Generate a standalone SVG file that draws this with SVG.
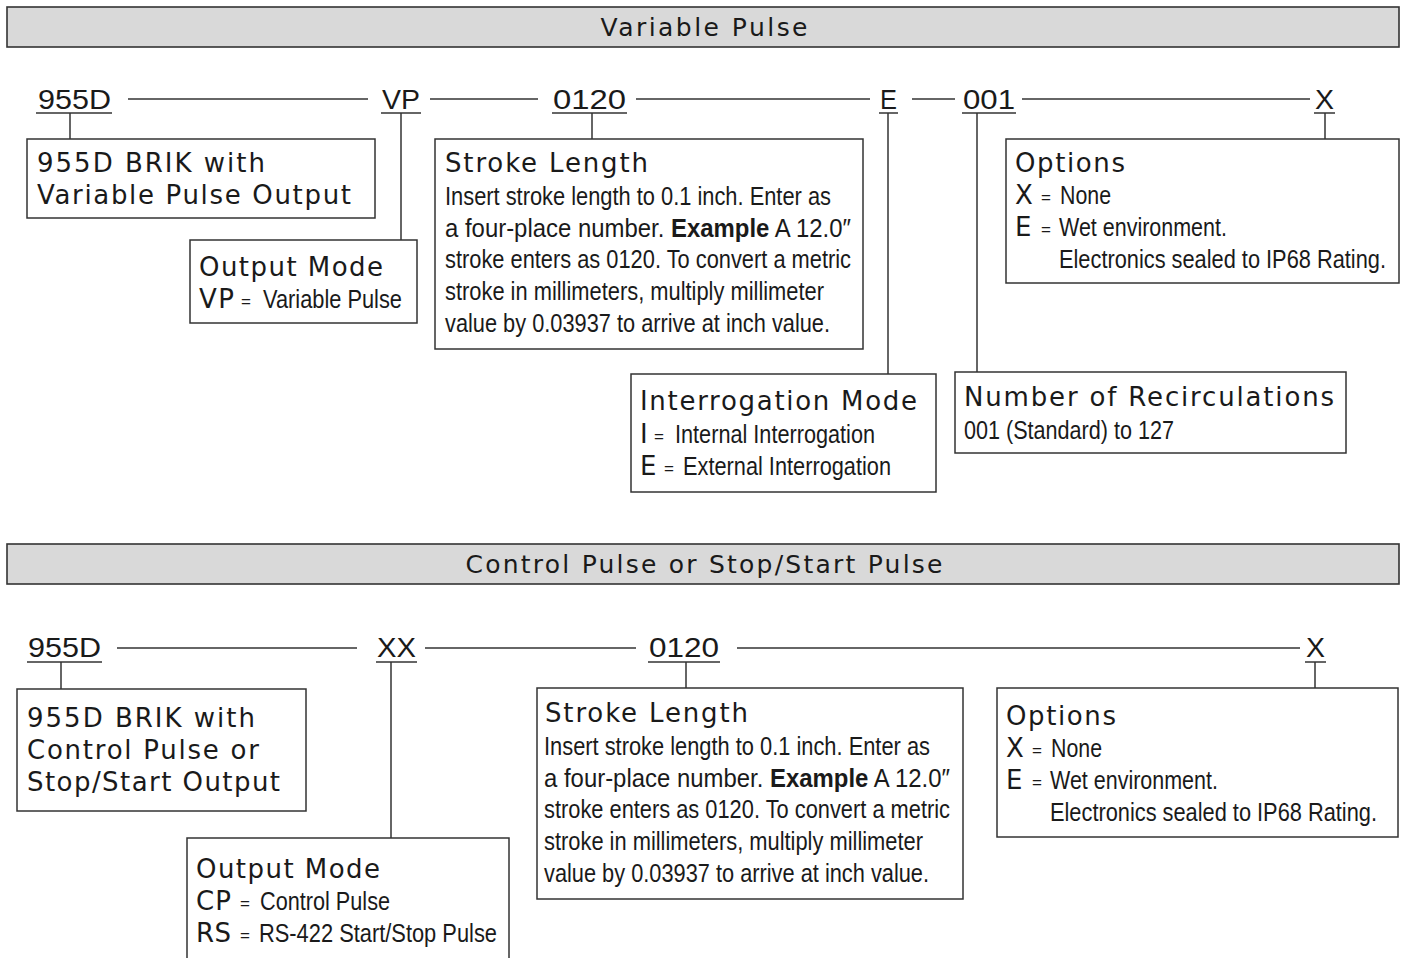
<svg xmlns="http://www.w3.org/2000/svg" width="1403" height="958" viewBox="0 0 1403 958">
<style>
.bg{fill:#fff}
.hbar{fill:#d9d9d9;stroke:#333;stroke-width:1.6}
.box{fill:#fff;stroke:#333;stroke-width:1.5}
.ln{stroke:#333;stroke-width:1.5;fill:none}
.hdr{font-family:"DejaVu Sans","Open Sans",sans-serif;font-size:25px;fill:#1a1a1a;text-anchor:middle}
.code{font-family:"Liberation Sans",Arial,sans-serif;font-size:27px;fill:#1a1a1a}
.ttl{font-family:"DejaVu Sans",Verdana,sans-serif;font-size:26px;fill:#1a1a1a}
.body{font-family:"Liberation Sans",Arial,sans-serif;font-size:25px;fill:#1a1a1a}
.eq{font-family:"Liberation Sans",Arial,sans-serif;font-size:17px;fill:#1a1a1a}
.b{font-weight:bold}
</style>
<rect class="bg" x="0" y="0" width="1403" height="958"/>

<g id="header-variable">
<rect class="hbar" x="7" y="7" width="1392" height="40"/>
<text class="hdr" x="704" y="36" textLength="207" lengthAdjust="spacing">Variable Pulse</text>
</g>

<g id="codes-top">
<text class="code" x="38" y="109" textLength="73" lengthAdjust="spacingAndGlyphs">955D</text>
<text class="code" x="382" y="109" textLength="38" lengthAdjust="spacingAndGlyphs">VP</text>
<text class="code" x="553" y="109" textLength="73" lengthAdjust="spacingAndGlyphs">0120</text>
<text class="code" x="880" y="109" textLength="17" lengthAdjust="spacingAndGlyphs">E</text>
<text class="code" x="963" y="109" textLength="52" lengthAdjust="spacingAndGlyphs">001</text>
<text class="code" x="1315" y="109" textLength="19" lengthAdjust="spacingAndGlyphs">X</text>
</g>

<g id="connectors">
<line class="ln" x1="128" y1="99" x2="368" y2="99"/>
<line class="ln" x1="430" y1="99" x2="538" y2="99"/>
<line class="ln" x1="636" y1="99" x2="870" y2="99"/>
<line class="ln" x1="912" y1="99" x2="955" y2="99"/>
<line class="ln" x1="1022" y1="99" x2="1310" y2="99"/>
<line class="ln" x1="36" y1="113" x2="112" y2="113"/>
<line class="ln" x1="381" y1="113" x2="421" y2="113"/>
<line class="ln" x1="552" y1="113" x2="627" y2="113"/>
<line class="ln" x1="879" y1="113" x2="898" y2="113"/>
<line class="ln" x1="962" y1="113" x2="1016" y2="113"/>
<line class="ln" x1="1314" y1="113" x2="1335" y2="113"/>
<line class="ln" x1="70" y1="113" x2="70" y2="139"/>
<line class="ln" x1="401" y1="113" x2="401" y2="240"/>
<line class="ln" x1="592" y1="113" x2="592" y2="139"/>
<line class="ln" x1="888" y1="113" x2="888" y2="374"/>
<line class="ln" x1="977" y1="113" x2="977" y2="372"/>
<line class="ln" x1="1325" y1="113" x2="1325" y2="139"/>
<line class="ln" x1="117" y1="648" x2="357" y2="648"/>
<line class="ln" x1="425" y1="648" x2="636" y2="648"/>
<line class="ln" x1="737" y1="648" x2="1300" y2="648"/>
<line class="ln" x1="27" y1="662" x2="102" y2="662"/>
<line class="ln" x1="376" y1="662" x2="417" y2="662"/>
<line class="ln" x1="648" y1="662" x2="720" y2="662"/>
<line class="ln" x1="1305" y1="662" x2="1326" y2="662"/>
<line class="ln" x1="61" y1="662" x2="61" y2="689"/>
<line class="ln" x1="391" y1="662" x2="391" y2="838"/>
<line class="ln" x1="686" y1="662" x2="686" y2="688"/>
<line class="ln" x1="1315" y1="662" x2="1315" y2="688"/>
</g>

<g id="brik-vp">
<rect class="box" x="27" y="139" width="348" height="79"/>
<text class="ttl" x="37" y="172" textLength="228" lengthAdjust="spacing">955D BRIK with</text>
<text class="ttl" x="37" y="204" textLength="314" lengthAdjust="spacing">Variable Pulse Output</text>
</g>

<g id="output-mode-vp">
<rect class="box" x="190" y="240" width="227" height="83"/>
<text class="ttl" x="199" y="276" textLength="184" lengthAdjust="spacing">Output Mode</text>
<text class="ttl" x="199" y="308" textLength="35" lengthAdjust="spacing">VP</text>
<text class="eq" x="241" y="307">=</text>
<text class="body" transform="translate(263,308) scale(0.86,1)" textLength="161.6" lengthAdjust="spacingAndGlyphs">Variable Pulse</text>
</g>

<g id="stroke-length-vp">
<rect class="box" x="435" y="139" width="428" height="210"/>
<text class="ttl" x="445" y="172" textLength="203" lengthAdjust="spacing">Stroke Length</text>
<text class="body" transform="translate(445,205) scale(0.86,1)" textLength="448.8" lengthAdjust="spacingAndGlyphs">Insert stroke length to 0.1 inch. Enter as</text>
<text class="body" transform="translate(445,237) scale(0.86,1)" textLength="472.1" lengthAdjust="spacingAndGlyphs">a four-place number. <tspan class="b">Example</tspan> A 12.0″</text>
<text class="body" transform="translate(445,268) scale(0.86,1)" textLength="472.1" lengthAdjust="spacingAndGlyphs">stroke enters as 0120. To convert a metric</text>
<text class="body" transform="translate(445,300) scale(0.86,1)" textLength="440.7" lengthAdjust="spacingAndGlyphs">stroke in millimeters, multiply millimeter</text>
<text class="body" transform="translate(445,332) scale(0.86,1)" textLength="447.7" lengthAdjust="spacingAndGlyphs">value by 0.03937 to arrive at inch value.</text>
</g>

<g id="interrogation-mode">
<rect class="box" x="631" y="374" width="305" height="118"/>
<text class="ttl" x="640" y="410" textLength="277" lengthAdjust="spacing">Interrogation Mode</text>
<text class="ttl" x="640" y="443">I</text>
<text class="eq" x="654" y="442">=</text>
<text class="body" transform="translate(675,443) scale(0.86,1)" textLength="232.6" lengthAdjust="spacingAndGlyphs">Internal Interrogation</text>
<text class="ttl" x="640" y="475">E</text>
<text class="eq" x="664" y="474">=</text>
<text class="body" transform="translate(683,475) scale(0.86,1)" textLength="241.9" lengthAdjust="spacingAndGlyphs">External Interrogation</text>
</g>

<g id="recirculations">
<rect class="box" x="955" y="372" width="391" height="81"/>
<text class="ttl" x="964" y="406" textLength="370" lengthAdjust="spacing">Number of Recirculations</text>
<text class="body" transform="translate(964,439) scale(0.86,1)" textLength="244.2" lengthAdjust="spacingAndGlyphs">001 (Standard) to 127</text>
</g>

<g id="options-vp">
<rect class="box" x="1006" y="139" width="393" height="144"/>
<text class="ttl" x="1015" y="172" textLength="110" lengthAdjust="spacing">Options</text>
<text class="ttl" x="1015" y="204">X</text>
<text class="eq" x="1041" y="203">=</text>
<text class="body" transform="translate(1060,204) scale(0.86,1)" textLength="59.3" lengthAdjust="spacingAndGlyphs">None</text>
<text class="ttl" x="1015" y="236">E</text>
<text class="eq" x="1041" y="235">=</text>
<text class="body" transform="translate(1059,236) scale(0.86,1)" textLength="195.3" lengthAdjust="spacingAndGlyphs">Wet environment.</text>
<text class="body" transform="translate(1059,268) scale(0.86,1)" textLength="380.2" lengthAdjust="spacingAndGlyphs">Electronics sealed to IP68 Rating.</text>
</g>

<g id="header-control">
<rect class="hbar" x="7" y="544" width="1392" height="40"/>
<text class="hdr" x="704" y="573" textLength="477" lengthAdjust="spacing">Control Pulse or Stop/Start Pulse</text>
</g>

<g id="codes-bottom">
<text class="code" x="28" y="657" textLength="73" lengthAdjust="spacingAndGlyphs">955D</text>
<text class="code" x="377" y="657" textLength="39" lengthAdjust="spacingAndGlyphs">XX</text>
<text class="code" x="649" y="657" textLength="70" lengthAdjust="spacingAndGlyphs">0120</text>
<text class="code" x="1306" y="657" textLength="19" lengthAdjust="spacingAndGlyphs">X</text>
</g>

<g id="brik-cp">
<rect class="box" x="17" y="689" width="289" height="122"/>
<text class="ttl" x="27" y="727" textLength="228" lengthAdjust="spacing">955D BRIK with</text>
<text class="ttl" x="27" y="759" textLength="232" lengthAdjust="spacing">Control Pulse or</text>
<text class="ttl" x="27" y="791" textLength="253" lengthAdjust="spacing">Stop/Start Output</text>
</g>

<g id="output-mode-cp">
<rect class="box" x="187" y="838" width="322" height="130"/>
<text class="ttl" x="196" y="878" textLength="184" lengthAdjust="spacing">Output Mode</text>
<text class="ttl" x="196" y="910" textLength="35" lengthAdjust="spacing">CP</text>
<text class="eq" x="240" y="909">=</text>
<text class="body" transform="translate(260,910) scale(0.86,1)" textLength="151.2" lengthAdjust="spacingAndGlyphs">Control Pulse</text>
<text class="ttl" x="196" y="942" textLength="35" lengthAdjust="spacing">RS</text>
<text class="eq" x="240" y="941">=</text>
<text class="body" transform="translate(259,942) scale(0.86,1)" textLength="276.7" lengthAdjust="spacingAndGlyphs">RS-422 Start/Stop Pulse</text>
</g>

<g id="stroke-length-cp">
<rect class="box" x="537" y="688" width="426" height="211"/>
<text class="ttl" x="545" y="722" textLength="203" lengthAdjust="spacing">Stroke Length</text>
<text class="body" transform="translate(544,755) scale(0.86,1)" textLength="448.8" lengthAdjust="spacingAndGlyphs">Insert stroke length to 0.1 inch. Enter as</text>
<text class="body" transform="translate(544,787) scale(0.86,1)" textLength="472.1" lengthAdjust="spacingAndGlyphs">a four-place number. <tspan class="b">Example</tspan> A 12.0″</text>
<text class="body" transform="translate(544,818) scale(0.86,1)" textLength="472.1" lengthAdjust="spacingAndGlyphs">stroke enters as 0120. To convert a metric</text>
<text class="body" transform="translate(544,850) scale(0.86,1)" textLength="440.7" lengthAdjust="spacingAndGlyphs">stroke in millimeters, multiply millimeter</text>
<text class="body" transform="translate(544,882) scale(0.86,1)" textLength="447.7" lengthAdjust="spacingAndGlyphs">value by 0.03937 to arrive at inch value.</text>
</g>

<g id="options-cp">
<rect class="box" x="997" y="688" width="401" height="149"/>
<text class="ttl" x="1006" y="725" textLength="110" lengthAdjust="spacing">Options</text>
<text class="ttl" x="1006" y="757">X</text>
<text class="eq" x="1032" y="756">=</text>
<text class="body" transform="translate(1051,757) scale(0.86,1)" textLength="59.3" lengthAdjust="spacingAndGlyphs">None</text>
<text class="ttl" x="1006" y="789">E</text>
<text class="eq" x="1032" y="788">=</text>
<text class="body" transform="translate(1050,789) scale(0.86,1)" textLength="195.3" lengthAdjust="spacingAndGlyphs">Wet environment.</text>
<text class="body" transform="translate(1050,821) scale(0.86,1)" textLength="380.2" lengthAdjust="spacingAndGlyphs">Electronics sealed to IP68 Rating.</text>
</g>
</svg>
